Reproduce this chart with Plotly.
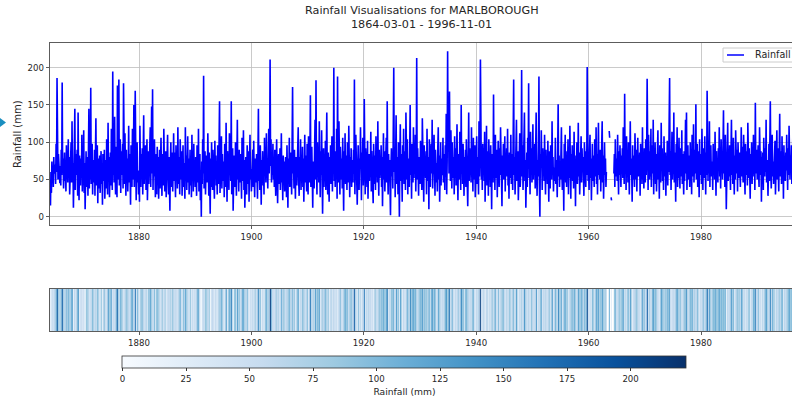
import numpy as np
import pandas as pd
import plotly.graph_objects as go

NaN = float("nan")

station = "MARLBOROUGH"
start_date = "1864-03-01"
end_label = "1996-11-01"
tick_years = [1880, 1900, 1920, 1940, 1960, 1980]
rain_ticks = [0, 50, 100, 150, 200]
cbar_ticks = [0, 25, 50, 75, 100, 125, 150, 175, 200]

# monthly rainfall (mm), grouped by decade
rain_1864_1869 = [
    48, 15, 60, 32, 74, 52, 66, 40, 80, 58,
    62, 70, 44, 98, 60, 186, 72, 50, 84, 58, 66, 45,
    68, 42, 90, 56, 180, 60, 78, 38, 64, 86, 48, 62,
    34, 96, 58, 70, 46, 104, 52, 80, 30, 66, 58, 100,
    46, 128, 54, 72, 12, 76, 60, 145, 36, 84, 56, 66,
    90, 28, 140, 58, 22, 82, 64, 42, 78, 52, 110, 34,
]
rain_1870s = [
    60, 46, 116, 32, 72, 10, 64, 88, 40, 56, 80, 28,
    70, 145, 38, 84, 50, 173, 44, 62, 98, 30, 76, 54,
    46, 90, 28, 66, 132, 42, 60, 96, 18, 78, 54, 38,
    82, 32, 58, 88, 44, 72, 16, 84, 60, 48, 90, 24,
    52, 76, 38, 104, 62, 30, 126, 50, 80, 26, 58, 86,
    42, 118, 64, 36, 195, 56, 82, 46, 134, 60, 30, 94,
    64, 26, 176, 50, 80, 184, 42, 68, 104, 32, 88, 56,
    74, 98, 38, 179, 58, 44, 112, 64, 28, 90, 52, 78,
    34, 64, 122, 46, 84, 58, 16, 96, 70, 40, 118, 50,
    66, 150, 40, 86, 169, 54, 22, 78, 100, 46, 62, 30,
]
rain_1880s = [
    60, 20, 122, 70, 40, 84, 54, 92, 30, 64, 136, 44,
    78, 50, 96, 36, 70, 104, 22, 62, 88, 44, 74, 56,
    120, 40, 82, 148, 58, 171, 36, 88, 54, 104, 66, 26,
    58, 84, 30, 94, 46, 80, 24, 64, 90, 38, 60, 106,
    54, 28, 84, 66, 42, 118, 58, 34, 74, 88, 26, 68,
    46, 110, 60, 30, 80, 50, 8, 72, 100, 40, 62, 86,
    34, 66, 112, 48, 86, 56, 26, 96, 52, 76, 38, 120,
    58, 44, 80, 30, 104, 64, 50, 88, 28, 62, 96, 40,
    72, 52, 24, 120, 58, 82, 36, 66, 108, 46, 78, 30,
    60, 90, 42, 70, 26, 110, 56, 80, 34, 98, 50, 64,
]
rain_1890s = [
    40, 80, 58, 28, 96, 66, 46, 118, 34, 62, 84, 22,
    54, 0, 74, 44, 104, 58, 189, 38, 68, 88, 30, 60,
    82, 46, 64, 112, 50, 28, 86, 62, 4, 78, 40, 100,
    58, 36, 90, 50, 70, 24, 102, 56, 82, 42, 64, 30,
    96, 60, 44, 80, 155, 32, 68, 54, 108, 38, 84, 58,
    48, 74, 26, 98, 62, 40, 126, 64, 20, 88, 52, 70,
    36, 112, 58, 78, 48, 155, 30, 66, 92, 8, 60, 82,
    56, 40, 100, 64, 28, 80, 130, 50, 70, 34, 90, 62,
    46, 84, 58, 24, 106, 68, 48, 116, 36, 76, 12, 64,
    80, 54, 30, 96, 60, 44, 88, 20, 72, 110, 50, 64,
]
rain_1900s = [
    34, 70, 58, 90, 40, 102, 54, 26, 78, 64, 46, 84,
    56, 24, 82, 145, 48, 66, 36, 96, 62, 16, 76, 54,
    88, 42, 64, 30, 106, 60, 84, 46, 112, 52, 70, 38,
    78, 118, 58, 88, 211, 68, 104, 46, 80, 56, 98, 50,
    64, 40, 90, 58, 28, 80, 104, 52, 18, 70, 84, 44,
    56, 92, 36, 68, 112, 46, 62, 22, 82, 54, 74, 34,
    46, 80, 60, 26, 96, 64, 12, 78, 50, 106, 40, 66,
    86, 54, 30, 100, 174, 58, 74, 38, 90, 62, 24, 80,
    56, 42, 88, 66, 120, 48, 28, 80, 60, 104, 36, 70,
    52, 94, 40, 78, 20, 64, 110, 46, 82, 56, 34, 98,
]
rain_1910s = [
    62, 30, 108, 70, 46, 84, 163, 40, 66, 94, 54, 12,
    74, 58, 38, 90, 130, 50, 183, 68, 30, 100, 60, 80,
    46, 128, 64, 26, 88, 56, 116, 78, 4, 58, 92, 40,
    68, 50, 102, 36, 74, 140, 56, 30, 86, 62, 20, 80,
    54, 96, 44, 66, 108, 34, 82, 60, 200, 48, 76, 40,
    88, 56, 118, 24, 188, 70, 46, 128, 58, 30, 94, 64,
    50, 78, 38, 106, 62, 8, 88, 54, 112, 44, 70, 82,
    36, 100, 60, 46, 122, 66, 26, 80, 52, 92, 40, 64,
    76, 46, 90, 58, 184, 30, 70, 110, 54, 82, 16, 60,
    96, 56, 36, 78, 64, 120, 46, 22, 86, 58, 106, 42,
]
rain_1920s = [
    70, 158, 52, 30, 92, 62, 80, 40, 102, 24, 66, 84,
    48, 74, 58, 114, 34, 88, 54, 68, 18, 98, 60, 44,
    82, 36, 108, 56, 78, 46, 128, 64, 28, 90, 52, 70,
    58, 96, 40, 80, 14, 66, 112, 50, 88, 34, 74, 56,
    106, 46, 155, 62, 30, 84, 58, 76, 40, 2, 68, 92,
    54, 80, 38, 110, 200, 60, 90, 26, 70, 136, 44, 64,
    80, 30, 100, 56, 0, 76, 124, 48, 84, 60, 20, 96,
    58, 118, 44, 70, 88, 36, 140, 64, 50, 104, 30, 78,
    66, 40, 90, 150, 56, 80, 24, 98, 62, 46, 120, 52,
    86, 58, 110, 34, 72, 213, 50, 92, 64, 28, 80, 56,
]
rain_1930s = [
    44, 102, 62, 84, 36, 132, 56, 70, 20, 96, 58, 76,
    52, 88, 30, 118, 64, 48, 80, 10, 104, 62, 40, 84,
    98, 58, 130, 38, 74, 54, 110, 68, 28, 90, 60, 46,
    72, 34, 92, 120, 50, 82, 20, 62, 100, 42, 78, 56,
    58, 106, 46, 84, 66, 36, 96, 54, 138, 30, 76, 222,
    88, 130, 58, 168, 78, 48, 116, 64, 38, 100, 70, 52,
    80, 30, 108, 60, 92, 42, 74, 124, 56, 22, 84, 64,
    50, 114, 70, 36, 150, 58, 86, 44, 98, 62, 28, 80,
    62, 90, 40, 104, 54, 78, 14, 66, 140, 48, 92, 58,
    72, 46, 120, 56, 84, 34, 106, 64, 50, 96, 26, 80,
]
rain_1940s = [
    58, 108, 44, 80, 68, 30, 128, 54, 88, 211, 62, 50,
    76, 36, 98, 60, 92, 48, 114, 20, 80, 58, 122, 42,
    64, 88, 28, 104, 54, 78, 40, 96, 62, 10, 84, 56,
    46, 164, 58, 74, 36, 110, 64, 52, 90, 26, 70, 102,
    80, 40, 92, 56, 120, 46, 68, 14, 82, 60, 98, 50,
    58, 108, 34, 78, 64, 92, 54, 118, 42, 70, 24, 86,
    52, 74, 110, 44, 84, 62, 36, 100, 184, 56, 80, 30,
    92, 58, 130, 48, 68, 88, 22, 78, 56, 112, 40, 64,
    72, 197, 54, 96, 36, 82, 62, 140, 48, 76, 12, 60,
    86, 40, 106, 64, 179, 52, 80, 30, 114, 58, 92, 46,
]
rain_1950s = [
    66, 124, 50, 80, 56, 98, 38, 88, 140, 62, 28, 76,
    54, 100, 188, 42, 0, 84, 68, 116, 56, 36, 92, 60,
    78, 48, 110, 64, 30, 90, 54, 74, 44, 102, 60, 20,
    88, 56, 38, 96, 70, 50, 128, 60, 80, 34, 66, 48,
    58, 106, 44, 76, 62, 26, 92, 151, 54, 82, 40, 68,
    50, 84, 120, 56, 36, 78, 64, 8, 98, 54, 110, 46,
    72, 40, 88, 60, 104, 30, 80, 52, 122, 64, 24, 84,
    56, 96, 48, 70, 38, 114, 62, 82, 14, 76, 52, 100,
    44, 66, 126, 54, 86, 30, 74, 58, 108, 46, 92, 64,
    80, 50, 28, 100, 60, 74, 40, 88, 56, 201, 68, 48,
]
rain_1960s = [
    62, 36, 90, 110, 52, 78, 22, 70, 98, 48, 82, 58,
    40, 104, 64, 54, 120, 44, 84, 30, 80, 126, 56, 68,
    50, 90, 34, 74, 62, 128, 46, 82, 24, 66, 100, 56,
    78, 40, 60, NaN, NaN, NaN, NaN, NaN, 115, 106, NaN, NaN,
    26, 22, NaN, NaN, NaN, NaN, 58, 84, 40, 104, 66, 54,
    78, 48, 110, 62, 30, 88, 56, 96, 66, 40, 82, 58,
    92, 52, 120, 70, 44, 165, 64, 84, 36, 108, 58, 74,
    46, 100, 66, 30, 88, 128, 56, 78, 62, 20, 96, 50,
    82, 58, 40, 112, 64, 50, 90, 34, 74, 106, 54, 68,
    56, 86, 28, 98, 62, 78, 44, 120, 50, 70, 38, 92,
]
rain_1970s = [
    64, 46, 104, 56, 84, 185, 60, 36, 110, 76, 50, 88,
    54, 118, 40, 70, 96, 58, 130, 30, 80, 62, 100, 44,
    84, 34, 90, 56, 116, 50, 74, 24, 96, 66, 46, 126,
    62, 92, 48, 78, 36, 108, 64, 54, 86, 28, 70, 56,
    102, 42, 82, 60, 128, 186, 56, 88, 36, 68, 114, 50,
    74, 58, 140, 46, 86, 64, 20, 98, 60, 120, 40, 80,
    52, 106, 66, 38, 92, 76, 54, 116, 44, 84, 62, 30,
    88, 48, 78, 130, 58, 140, 36, 70, 96, 50, 82, 64,
    40, 100, 60, 86, 30, 110, 68, 54, 124, 46, 74, 90,
    58, 151, 50, 80, 98, 40, 66, 88, 26, 104, 56, 70,
]
rain_1980s = [
    84, 44, 118, 62, 36, 92, 76, 52, 108, 64, 30, 86,
    56, 169, 70, 48, 102, 58, 128, 40, 82, 96, 54, 66,
    74, 36, 98, 60, 86, 50, 114, 64, 28, 88, 58, 78,
    46, 92, 66, 120, 54, 80, 38, 104, 62, 84, 50, 100,
    143, 58, 82, 40, 110, 68, 10, 88, 60, 126, 48, 76,
    54, 96, 64, 36, 86, 130, 56, 74, 44, 106, 62, 30,
    82, 50, 116, 66, 58, 90, 34, 100, 70, 52, 86, 58,
    40, 78, 120, 54, 94, 64, 46, 110, 60, 80, 30, 98,
    68, 56, 88, 42, 126, 74, 52, 92, 64, 24, 84, 58,
    100, 44, 78, 62, 110, 54, 86, 36, 153, 66, 58, 90,
]
rain_1990_1996 = [
    50, 74, 96, 58, 40, 120, 70, 56, 88, 20, 80, 64,
    86, 36, 106, 68, 54, 92, 60, 130, 46, 76, 66, 28,
    58, 98, 48, 82, 155, 62, 38, 88, 110, 54, 74, 44,
    78, 60, 102, 30, 86, 66, 116, 50, 92, 60, 34, 84,
    138, 54, 70, 88, 44, 108, 58, 80, 24, 96, 64, 56,
    48, 86, 62, 110, 74, 36, 92, 56, 122, 68, 50, 82,
    60, 96, 44, 74, 106, 54, 84, 30, 66, 90, 58,
]

rainfall = (rain_1864_1869 + rain_1870s + rain_1880s + rain_1890s + rain_1900s
            + rain_1910s + rain_1920s + rain_1930s + rain_1940s + rain_1950s
            + rain_1960s + rain_1970s + rain_1980s + rain_1990_1996)
dates = pd.date_range(start_date, periods=len(rainfall), freq="MS")
rain_max = np.nanmax(rainfall)

W, H = 792, 398
FONT = "DejaVu Sans"
TXT = "#262626"
AX = "#333333"
GRID = "#bdbdbd"


def fx(px):
    return px / W


def fy(py):
    return 1 - py / H


blues = [[0.0, "rgb(247,251,255)"], [0.125, "rgb(222,235,247)"], [0.25, "rgb(198,219,239)"],
         [0.375, "rgb(158,202,225)"], [0.5, "rgb(107,174,214)"], [0.625, "rgb(66,146,198)"],
         [0.75, "rgb(33,113,181)"], [0.875, "rgb(8,81,156)"], [1.0, "rgb(8,48,107)"]]

x_range = [start_date, "1996-03-10"]
tickvals = [f"{y}-01-01" for y in tick_years]
ticktext = [str(y) for y in tick_years]

fig = go.Figure()
fig.add_trace(go.Scatter(
    x=dates, y=rainfall, mode="lines", name="Rainfall",
    line=dict(color="#0000ff", width=1.6), connectgaps=False,
    xaxis="x", yaxis="y", showlegend=False,
))
fig.add_trace(go.Heatmap(
    x=dates, z=[rainfall], y=[0], xaxis="x2", yaxis="y2",
    colorscale=blues, zmin=0, zmax=rain_max, showscale=True,
    colorbar=dict(
        orientation="h", x=fx(404.5), xanchor="center", y=fy(356), yanchor="top",
        len=564, lenmode="pixels", thickness=11.5, thicknessmode="pixels",
        xpad=0, ypad=0, outlinewidth=0.8, outlinecolor=AX,
        tickvals=cbar_ticks, ticks="outside", ticklen=3.5, tickcolor=AX,
        tickfont=dict(size=8.6, color=TXT, family=FONT),
        title=dict(text="Rainfall (mm)", side="bottom", font=dict(size=9.2, color=TXT, family=FONT)),
    ),
    hoverinfo="skip",
))

axis_common = dict(
    type="date", range=x_range, tickvals=tickvals, ticktext=ticktext,
    ticks="outside", ticklen=3.5, tickcolor=AX, tickwidth=0.8,
    tickfont=dict(size=8.6, color=TXT, family=FONT),
    showline=True, linecolor=AX, linewidth=0.8, mirror=True, zeroline=False,
)

fig.update_layout(
    width=W, height=H, autosize=False,
    margin=dict(l=0, r=0, t=0, b=0, pad=0, autoexpand=False),
    paper_bgcolor="white", plot_bgcolor="white",
    font=dict(family=FONT, size=9, color=TXT),
    xaxis=dict(domain=[fx(50), 1], anchor="y", showgrid=True, gridcolor=GRID, gridwidth=0.8,
               **axis_common),
    yaxis=dict(domain=[fy(225), fy(43)], anchor="x", range=[-11.1, 233.1],
               tickvals=rain_ticks, ticks="outside", ticklen=3.5, tickcolor=AX, tickwidth=0.8,
               tickfont=dict(size=8.6, color=TXT, family=FONT),
               showgrid=True, gridcolor=GRID, gridwidth=0.8, zeroline=False,
               showline=True, linecolor=AX, linewidth=0.8, mirror=False),
    xaxis2=dict(domain=[fx(50), 1], anchor="y2", showgrid=False, **axis_common),
    yaxis2=dict(domain=[fy(331), fy(289)], anchor="x2", showticklabels=False, ticks="",
                showgrid=False, zeroline=False, showline=True, linecolor=AX, linewidth=0.8,
                mirror=False),
    showlegend=False,
    annotations=[
        dict(text=f"Rainfall Visualisations for {station}", x=fx(421.5), y=fy(11),
             xref="paper", yref="paper", showarrow=False, xanchor="center", yanchor="middle",
             font=dict(size=11.2, color=TXT, family=FONT)),
        dict(text=f"{start_date} - {end_label}", x=fx(421.5), y=fy(24.5),
             xref="paper", yref="paper", showarrow=False, xanchor="center", yanchor="middle",
             font=dict(size=11.2, color=TXT, family=FONT)),
        dict(text="Rainfall (mm)", x=fx(17), y=fy(134), textangle=-90,
             xref="paper", yref="paper", showarrow=False, xanchor="center", yanchor="middle",
             font=dict(size=10, color=TXT, family=FONT)),
        # legend entry text
        dict(text="Rainfall", x=fx(753), y=fy(55), xref="paper", yref="paper",
             showarrow=False, xanchor="left", yanchor="middle",
             font=dict(size=9.6, color=TXT, family=FONT)),
    ],
    shapes=[
        # legend frame and sample line
        dict(type="rect", xref="paper", yref="paper", x0=fx(723), x1=fx(805),
             y0=fy(62), y1=fy(48), fillcolor="rgba(255,255,255,0.85)",
             line=dict(color="#cccccc", width=1), layer="above"),
        dict(type="line", xref="paper", yref="paper", x0=fx(727), x1=fx(744),
             y0=fy(55), y1=fy(55), line=dict(color="#0000ff", width=1.5), layer="above"),
        # notebook collapse marker at left edge
        dict(type="path", xref="paper", yref="paper",
             path=f"M {fx(0)},{fy(118)} L {fx(6)},{fy(122.5)} L {fx(0)},{fy(127)} Z",
             fillcolor="#1b8fc0", line=dict(width=0)),
    ],
)

fig.write_html(
    "out.html",
    config={"displayModeBar": False, "staticPlot": True},
    post_script="document.body.style.margin='0';document.body.style.padding='0';",
)
